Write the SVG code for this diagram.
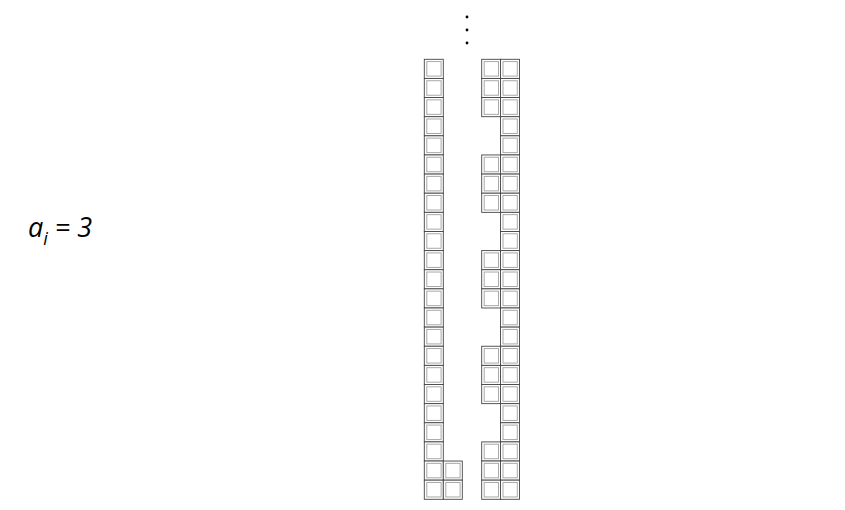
<svg xmlns="http://www.w3.org/2000/svg" width="845" height="510" viewBox="0 0 845 510">
<defs>
<style>
.o{fill:#fff;stroke:#444;stroke-width:0.9}
.i{fill:none;stroke:#a8a8a8;stroke-width:1}
.dot{fill:#000}
.lbl{font-family:"Open Sans","Noto Sans",sans-serif;font-style:italic;font-size:27px;fill:#000}
</style>
<g id="cell">
<rect class="o" x="0" y="0" width="19" height="19.13"/>
<rect class="i" x="2.5" y="2.3" width="14.3" height="14.5"/>
</g>
</defs>
<rect width="845" height="510" fill="#fff"/>
<g id="label">
<text class="lbl" x="28" y="237">a<tspan font-size="18" dy="8">i</tspan><tspan dy="-8"> = 3</tspan></text>
</g>
<g id="dots">
<circle class="dot" cx="467" cy="17" r="1.4"/>
<circle class="dot" cx="467" cy="30" r="1.4"/>
<circle class="dot" cx="467" cy="43" r="1.4"/>
</g>
<g id="colA">
<use href="#cell" x="424.3" y="59.3"/><use href="#cell" x="424.3" y="78.43"/><use href="#cell" x="424.3" y="97.56"/><use href="#cell" x="424.3" y="116.69"/><use href="#cell" x="424.3" y="135.82"/><use href="#cell" x="424.3" y="154.95"/><use href="#cell" x="424.3" y="174.08"/><use href="#cell" x="424.3" y="193.21"/><use href="#cell" x="424.3" y="212.34"/><use href="#cell" x="424.3" y="231.47"/><use href="#cell" x="424.3" y="250.6"/><use href="#cell" x="424.3" y="269.73"/><use href="#cell" x="424.3" y="288.86"/><use href="#cell" x="424.3" y="307.99"/><use href="#cell" x="424.3" y="327.12"/><use href="#cell" x="424.3" y="346.25"/><use href="#cell" x="424.3" y="365.38"/><use href="#cell" x="424.3" y="384.51"/><use href="#cell" x="424.3" y="403.64"/><use href="#cell" x="424.3" y="422.77"/><use href="#cell" x="424.3" y="441.9"/><use href="#cell" x="424.3" y="461.03"/><use href="#cell" x="424.3" y="480.16"/>
</g>
<g id="colB">
<use href="#cell" x="443.3" y="461.03"/><use href="#cell" x="443.3" y="480.16"/>
</g>
<g id="colC">
<use href="#cell" x="481.7" y="59.3"/><use href="#cell" x="481.7" y="78.43"/><use href="#cell" x="481.7" y="97.56"/>
<use href="#cell" x="481.7" y="154.95"/><use href="#cell" x="481.7" y="174.08"/><use href="#cell" x="481.7" y="193.21"/>
<use href="#cell" x="481.7" y="250.6"/><use href="#cell" x="481.7" y="269.73"/><use href="#cell" x="481.7" y="288.86"/>
<use href="#cell" x="481.7" y="346.25"/><use href="#cell" x="481.7" y="365.38"/><use href="#cell" x="481.7" y="384.51"/>
<use href="#cell" x="481.7" y="441.9"/><use href="#cell" x="481.7" y="461.03"/><use href="#cell" x="481.7" y="480.16"/>
</g>
<g id="colD">
<use href="#cell" x="500.5" y="59.3"/><use href="#cell" x="500.5" y="78.43"/><use href="#cell" x="500.5" y="97.56"/><use href="#cell" x="500.5" y="116.69"/><use href="#cell" x="500.5" y="135.82"/><use href="#cell" x="500.5" y="154.95"/><use href="#cell" x="500.5" y="174.08"/><use href="#cell" x="500.5" y="193.21"/><use href="#cell" x="500.5" y="212.34"/><use href="#cell" x="500.5" y="231.47"/><use href="#cell" x="500.5" y="250.6"/><use href="#cell" x="500.5" y="269.73"/><use href="#cell" x="500.5" y="288.86"/><use href="#cell" x="500.5" y="307.99"/><use href="#cell" x="500.5" y="327.12"/><use href="#cell" x="500.5" y="346.25"/><use href="#cell" x="500.5" y="365.38"/><use href="#cell" x="500.5" y="384.51"/><use href="#cell" x="500.5" y="403.64"/><use href="#cell" x="500.5" y="422.77"/><use href="#cell" x="500.5" y="441.9"/><use href="#cell" x="500.5" y="461.03"/><use href="#cell" x="500.5" y="480.16"/>
</g>
</svg>
